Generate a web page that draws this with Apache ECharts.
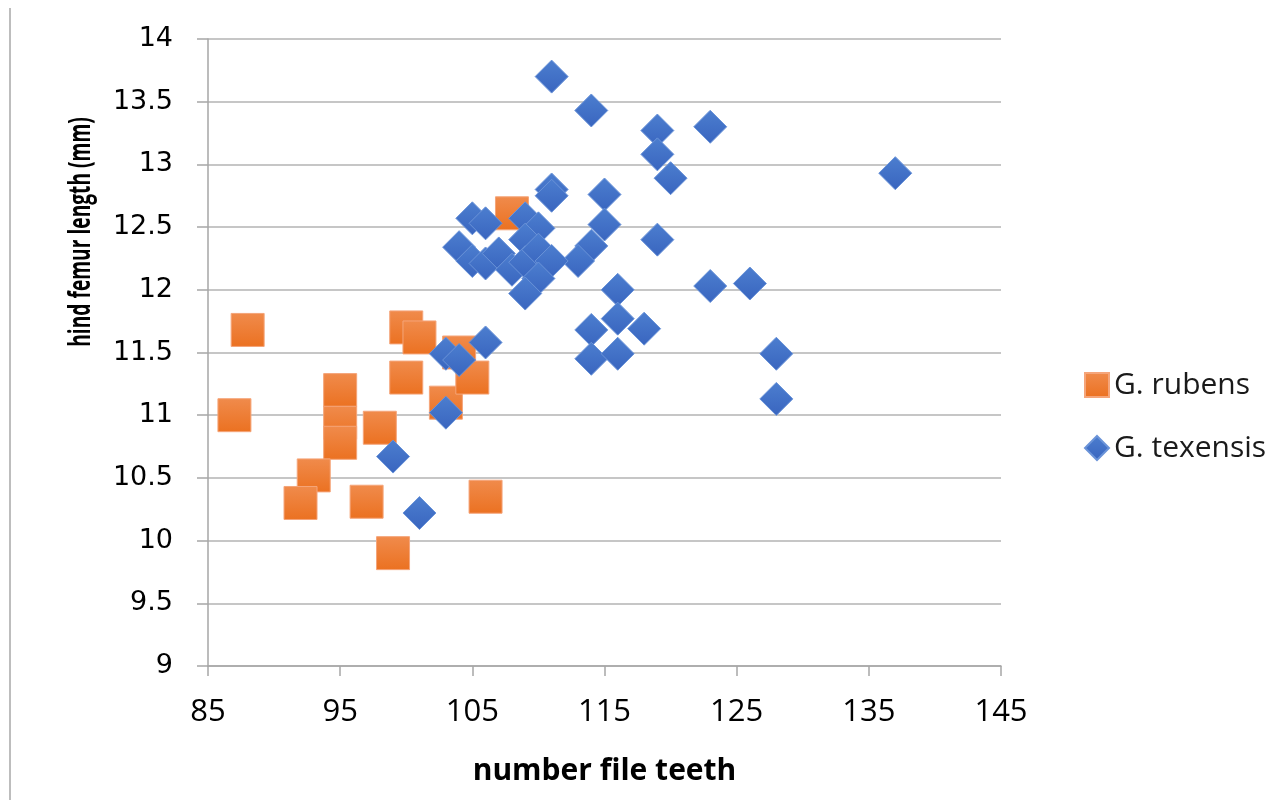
<!DOCTYPE html>
<html>
<head>
<meta charset="utf-8">
<script src="https://cdn.jsdelivr.net/npm/echarts@6/dist/echarts.min.js"></script>
<style>
  html, body { margin: 0; padding: 0; background: #fff; }
  #chart { width: 1276px; height: 800px; }
</style>
</head>
<body>
<div id="chart"></div>
<script>
// G. rubens: [file teeth, femur length]
const rubensTeeth = [88, 87, 95, 95, 95, 93, 92, 98, 97, 99, 100, 101, 100, 103, 104, 105, 106, 108];
const rubensFemur = [11.68, 11.0, 11.2, 10.94, 10.78, 10.52, 10.3, 10.9, 10.31, 9.9, 11.7, 11.62, 11.3, 11.1, 11.5, 11.3, 10.35, 12.61];

// G. texensis
const texensisTeeth = [
  111, 114, 119, 123, 119, 120, 137, 111, 111, 115, 115, 119, 123, 126, 116, 116,
  114, 118, 114, 116, 128, 128, 114, 113, 105, 106, 109, 110, 104, 105, 106, 107,
  108, 109, 109, 110, 111, 110, 109, 106, 103, 104, 103, 99, 101
];
const texensisFemur = [
  13.7, 13.43, 13.27, 13.3, 13.08, 12.89, 12.93, 12.8, 12.75, 12.76, 12.52, 12.4, 12.03, 12.05, 12.0, 11.77,
  11.68, 11.69, 11.45, 11.49, 11.49, 11.13, 12.35, 12.23, 12.57, 12.53, 12.57, 12.49, 12.34, 12.23, 12.21, 12.29,
  12.16, 12.4, 12.22, 12.32, 12.23, 12.09, 11.97, 11.58, 11.49, 11.44, 11.02, 10.67, 10.22
];

const seriesNames = ["G. rubens", "G. texensis"];
const xTitle = "number file teeth";
const yTitle = "hind femur length (mm)";

const pairs = (xs, ys) => xs.map((x, i) => [x, ys[i]]);

const orangeFill = new echarts.graphic.LinearGradient(0, 0, 0, 1, [
  { offset: 0, color: "#F08B4C" },
  { offset: 1, color: "#EB7121" }
]);
const blueFill = new echarts.graphic.LinearGradient(0, 0, 0, 1, [
  { offset: 0, color: "#4C7ECF" },
  { offset: 1, color: "#3965BF" }
]);

const chart = echarts.init(document.getElementById("chart"), null, { renderer: "canvas" });

chart.setOption({
  animation: false,
  grid: {
    left: 208,
    right: 275,
    top: 39,
    bottom: 134
  },
  legend: {
    orient: "vertical",
    left: 1079,
    top: 365,
    itemWidth: 24,
    itemHeight: 24,
    itemGap: 33,
    textStyle: {
      fontFamily: "Open Sans",
      fontSize: 30,
      color: "#1a1a1a",
      padding: [0, 0, 0, 0]
    },
    data: [
      { name: seriesNames[0], icon: "rect" },
      { name: seriesNames[1], icon: "diamond" }
    ]
  },
  graphic: [
    {
      type: "line",
      shape: { x1: 10, y1: 8, x2: 10, y2: 800 },
      style: { stroke: "#BDBDBD", lineWidth: 2 }
    },
    {
      type: "text",
      x: 81,
      y: 232,
      rotation: Math.PI / 2,
      scaleX: 0.64,
      style: {
        text: yTitle,
        fontFamily: "Open Sans",
        fontWeight: "bold",
        fontSize: 30,
        fill: "#000",
        align: "center",
        verticalAlign: "middle"
      }
    }
  ],
  xAxis: {
    type: "value",
    min: 85,
    max: 145,
    interval: 10,
    name: xTitle,
    nameLocation: "middle",
    nameGap: 90,
    nameTextStyle: {
      fontFamily: "Open Sans",
      fontWeight: "bold",
      fontSize: 30,
      color: "#000"
    },
    axisLine: { show: true, lineStyle: { color: "#A6A6A6", width: 1.5 } },
    axisTick: { show: true, length: 10, lineStyle: { color: "#A6A6A6", width: 1.5 } },
    splitLine: { show: false },
    axisLabel: {
      margin: 31,
      fontFamily: "Open Sans",
      fontSize: 31,
      color: "#000"
    }
  },
  yAxis: {
    type: "value",
    min: 9,
    max: 14,
    interval: 0.5,
    axisLine: { show: true, lineStyle: { color: "#A6A6A6", width: 1.5 } },
    axisTick: { show: true, length: 11, lineStyle: { color: "#A6A6A6", width: 1.5 } },
    splitLine: { show: true, lineStyle: { color: "#B3B3B3", width: 1.5 } },
    axisLabel: {
      margin: 35,
      fontFamily: "DejaVu Sans",
      fontSize: 27,
      color: "#000"
    }
  },
  series: [
    {
      name: seriesNames[0],
      type: "scatter",
      symbol: "rect",
      symbolSize: 33,
      data: pairs(rubensTeeth, rubensFemur),
      itemStyle: {
        color: orangeFill,
        borderColor: "#F5A57A",
        borderWidth: 1,
        opacity: 1
      },
      z: 2
    },
    {
      name: seriesNames[1],
      type: "scatter",
      symbol: "diamond",
      symbolSize: 33,
      data: pairs(texensisTeeth, texensisFemur),
      itemStyle: {
        color: blueFill,
        borderColor: "#6A93D8",
        borderWidth: 1,
        opacity: 1
      },
      z: 3
    }
  ]
});
</script>
</body>
</html>
